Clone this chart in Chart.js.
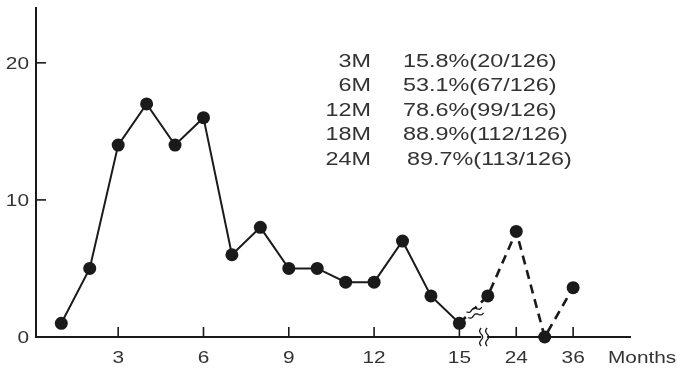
<!DOCTYPE html>
<html>
<head>
<meta charset="utf-8">
<script src="https://cdn.jsdelivr.net/npm/chart.js@4.4.1/dist/chart.umd.min.js"></script>
<style>
    html, body { margin: 0; background: #fff; }
    #wrap { width: 677px; height: 368px; }
</style>
</head>
<body>
<div id="wrap"><canvas id="chart"></canvas></div>
<script>
// data
const monthLabels = [1, 2, 3, 4, 5, 6, 7, 8, 9, 10, 11, 12, 13, 14, 15, 18, 24, 30, 36];
const counts = [1, 5, 14, 17, 14, 16, 6, 8, 5, 5, 4, 4, 7, 3, 1, 3, 7.7, 0, 3.6];
const xTickMonths = [3, 6, 9, 12, 15, 24, 36];
const yTicks = [0, 10, 20];
const noteLabels = ['3M', '6M', '12M', '18M', '24M'];
const notePct = ['15.8%', '53.1%', '78.6%', '88.9%', '89.7%'];
const noteFrac = ['(20/126)', '(67/126)', '(99/126)', '(112/126)', '(113/126)'];
const xTitle = 'Months';

const INK = '#1a1a1a';
const TEXT = '#333';
const FONT = '"Liberation Sans", Arial, sans-serif';
const breakIndex = monthLabels.indexOf(15); // dashed after this point

// month -> position on the (broken) axis
const posOf = m => monthLabels.indexOf(m) + 1;

function wideText(ctx, txt, x, y, align, size) {
    ctx.save();
    ctx.translate(x, y);
    ctx.scale(1.3, 1);
    ctx.font = size + 'px ' + FONT;
    ctx.fillStyle = TEXT;
    ctx.textAlign = align;
    ctx.textBaseline = 'middle';
    ctx.fillText(txt, 0, 0);
    ctx.restore();
}

function wave(ctx, x0, y0, x1, y1, amp) {
    const dx = x1 - x0, dy = y1 - y0;
    const len = Math.hypot(dx, dy);
    const nx = -dy / len, ny = dx / len;
    ctx.beginPath();
    for (let i = 0; i <= 20; i++) {
        const t = i / 20;
        const off = Math.sin(t * Math.PI * 3) * amp;
        const px = x0 + dx * t + nx * off, py = y0 + dy * t + ny * off;
        if (i === 0) ctx.moveTo(px, py); else ctx.lineTo(px, py);
    }
    ctx.stroke();
}

const decorations = {
    id: 'decorations',
    afterDraw(chart) {
        const { ctx, chartArea: area, scales: { x, y } } = chart;
        ctx.save();
        ctx.strokeStyle = INK;
        ctx.lineWidth = 1.6;

        // inward tick marks
        xTickMonths.forEach(m => {
            const px = x.getPixelForValue(posOf(m));
            ctx.beginPath();
            ctx.moveTo(px, area.bottom);
            ctx.lineTo(px, area.bottom - 10);
            ctx.stroke();
            wideText(ctx, String(m), px, area.bottom + 22, 'center', 16);
        });
        yTicks.forEach(v => {
            const py = y.getPixelForValue(v);
            if (v > 0) {
                ctx.beginPath();
                ctx.moveTo(area.left, py);
                ctx.lineTo(area.left + 10, py);
                ctx.stroke();
            }
            wideText(ctx, String(v), area.left - 7, py + 2, 'right', 16);
        });
        wideText(ctx, xTitle, area.right - 22, area.bottom + 22, 'left', 16);

        // axis break
        const bx = x.getPixelForValue(breakIndex + 1.87);
        ctx.fillStyle = '#fff';
        ctx.fillRect(bx - 3, area.bottom - 2, 6, 4);
        ctx.lineWidth = 1.3;
        wave(ctx, bx - 3, area.bottom - 9, bx - 3, area.bottom + 9, 1.5);
        wave(ctx, bx + 3, area.bottom - 9, bx + 3, area.bottom + 9, 1.5);

        // line break
        const lx = x.getPixelForValue(breakIndex + 1.55);
        const ly = y.getPixelForValue(1.8);
        ctx.fillStyle = '#fff';
        ctx.save();
        ctx.translate(lx, ly);
        ctx.rotate(-0.3);
        ctx.fillRect(-8, -3, 16, 6);
        wave(ctx, -8, -3, 8, -3, 1.3);
        wave(ctx, -8, 3, 8, 3, 1.3);
        ctx.restore();

        // survival notes
        noteLabels.forEach((lab, i) => {
            const cy = 62 + i * 24.5;
            wideText(ctx, lab, 371, cy, 'right', 18);
            const pctX = i === noteLabels.length - 1 ? 407 : 403;
            wideText(ctx, notePct[i] + noteFrac[i], pctX, cy, 'left', 18);
        });
        ctx.restore();
    }
};

new Chart(document.getElementById('chart'), {
    type: 'line',
    data: {
        datasets: [{
            data: monthLabels.map((m, i) => ({ x: posOf(m), y: counts[i] })),
            borderColor: INK,
            backgroundColor: INK,
            borderWidth: 2,
            pointRadius: 6.5,
            pointBorderWidth: 0,
            tension: 0,
            clip: false,
            segment: {
                borderDash: c => c.p0DataIndex >= breakIndex ? [9, 6] : undefined,
                borderWidth: c => c.p0DataIndex >= breakIndex ? 2.6 : 2
            }
        }]
    },
    options: {
        responsive: true,
        maintainAspectRatio: false,
        animation: false,
        layout: { padding: { top: 8, right: 47 } },
        plugins: { legend: { display: false }, tooltip: { enabled: false } },
        scales: {
            x: {
                type: 'linear',
                min: 0.11,
                max: 21,
                grid: { display: false, drawTicks: false },
                border: { color: INK, width: 2 },
                ticks: { display: false },
                afterFit: s => { s.height = 31; }
            },
            y: {
                min: 0,
                max: 24,
                grid: { display: false, drawTicks: false },
                border: { color: INK, width: 2 },
                ticks: { display: false },
                afterFit: s => { s.width = 36; }
            }
        }
    },
    plugins: [decorations]
});
</script>
</body>
</html>
